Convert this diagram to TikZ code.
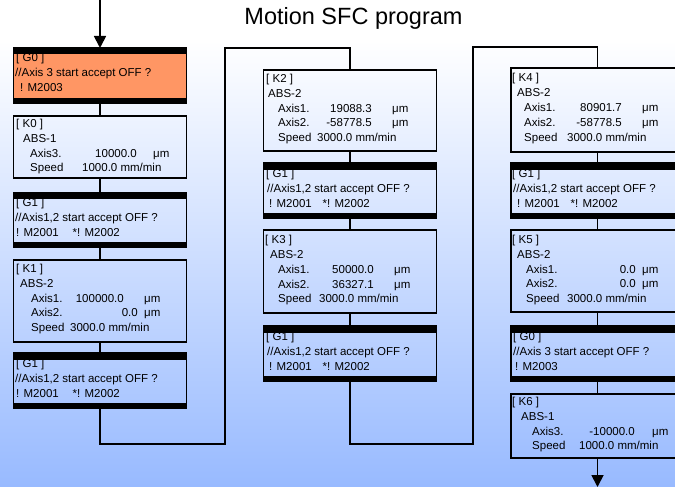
\documentclass[tikz,border=0pt]{standalone}
\usepackage{fontspec}
\setmainfont{Liberation Sans}
\usetikzlibrary{arrows.meta,calc}
\definecolor{bgblue}{RGB}{152,186,255}
\definecolor{gorange}{RGB}{255,150,100}
\tikzset{
  box/.style={draw=black, line width=1.6pt, inner sep=0pt, outer sep=0pt, minimum width=173pt},
  gbox/.style={box, minimum height=55pt,
    path picture={\fill[black] (path picture bounding box.north west) rectangle ([yshift=-6.5pt]path picture bounding box.north east);
                  \fill[black] (path picture bounding box.south west) rectangle ([yshift=5.5pt]path picture bounding box.south east);}},
  txt/.style={anchor=base west, inner sep=0pt, font=\fontsize{11.5}{13}\selectfont},
  val/.style={txt, anchor=base east},
  conn/.style={line width=1.8pt},
  arr/.style={conn, -{Triangle[width=12pt,length=12pt]}},
}
\begin{document}
\begin{tikzpicture}[x=1pt,y=-1pt]
\useasboundingbox (0,0) rectangle (675,487);
\clip (0,0) rectangle (675,487);
\fill[white] (0,0) rectangle (675,487);
\shade[top color=white, bottom color=bgblue] (0,40) rectangle (675,487);

\node[font=\fontsize{23.5}{28}\selectfont, anchor=base, inner sep=0pt] (title) at (353.5,25) {Motion SFC program};

% ---------- column 1 ----------
\node[gbox, fill=gorange] (G0a) at (100,75.5) {};
\node[box, minimum height=62pt] (K0) at (100,147) {};
\node[gbox] (G1a) at (100,220) {};
\node[box, minimum height=82pt] (K1) at (100,301) {};
\node[gbox] (G1b) at (100,380.5) {};

\node[txt] (G0a1) at (16,62) {[ G0 ]};
\node[txt] (G0a2) at (15,77) {//Axis 3 start accept OFF ?};
\node[txt] (G0a3) at (20,92) {! M2003};

\node[txt] (K0a) at (16,127) {[ K0 ]};
\node[txt] (K0b) at (23,142) {ABS-1};
\node[txt] (K0c) at (30,157) {Axis3.};
\node[val] (K0d) at (137,157) {10000.0};
\node[txt] (K0e) at (153,157) {μm};
\node[txt] (K0f) at (30,171) {Speed};
\node[txt] (K0g) at (82,171) {1000.0 mm/min};

\node[txt] (G1a1) at (16,206) {[ G1 ]};
\node[txt] (G1a2) at (15,221) {//Axis1,2 start accept OFF ?};
\node[txt] (G1a3) at (16,236) {! M2001};
\node[val] (G1a4) at (120,236) {*! M2002};

\node[txt] (K1a) at (16,272.5) {[ K1 ]};
\node[txt] (K1b) at (20,287) {ABS-2};
\node[txt] (K1c) at (31,302) {Axis1.};
\node[val] (K1d) at (124,302) {100000.0};
\node[txt] (K1e) at (144,302) {μm};
\node[txt] (K1f) at (31,316.5) {Axis2.};
\node[val] (K1g) at (138,316.5) {0.0};
\node[txt] (K1h) at (144,316.5) {μm};
\node[txt] (K1i) at (31,331) {Speed};
\node[txt] (K1j) at (70,331) {3000.0 mm/min};

\node[txt] (G1b1) at (16,367) {[ G1 ]};
\node[txt] (G1b2) at (15,382) {//Axis1,2 start accept OFF ?};
\node[txt] (G1b3) at (16,397) {! M2001};
\node[val] (G1b4) at (120,397) {*! M2002};

% ---------- column 2 ----------
\node[box, minimum height=81pt] (K2) at (350,110.5) {};
\node[gbox] (G1c) at (350,190.5) {};
\node[box, minimum height=83pt] (K3) at (350,271.5) {};
\node[gbox] (G1d) at (350,353.5) {};

\node[txt] (K2a) at (266,82.5) {[ K2 ]};
\node[txt] (K2b) at (268,97) {ABS-2};
\node[txt] (K2c) at (278,112) {Axis1.};
\node[val] (K2d) at (372,112) {19088.3};
\node[txt] (K2e) at (392,112) {μm};
\node[txt] (K2f) at (278,126.5) {Axis2.};
\node[val] (K2g) at (372,126.5) {-58778.5};
\node[txt] (K2h) at (392,126.5) {μm};
\node[txt] (K2i) at (278,141) {Speed};
\node[txt] (K2j) at (317,141) {3000.0 mm/min};

\node[txt] (G1c1) at (266,177) {[ G1 ]};
\node[txt] (G1c2) at (267,192) {//Axis1,2 start accept OFF ?};
\node[txt] (G1c3) at (269,207) {! M2001};
\node[val] (G1c4) at (370,207) {*! M2002};

\node[txt] (K3a) at (265,243) {[ K3 ]};
\node[txt] (K3b) at (270,258) {ABS-2};
\node[txt] (K3c) at (278,273) {Axis1.};
\node[val] (K3d) at (374,273) {50000.0};
\node[txt] (K3e) at (394,273) {μm};
\node[txt] (K3f) at (278,288) {Axis2.};
\node[val] (K3g) at (374,288) {36327.1};
\node[txt] (K3h) at (394,288) {μm};
\node[txt] (K3i) at (278,302.5) {Speed};
\node[txt] (K3j) at (319,302.5) {3000.0 mm/min};

\node[txt] (G1d1) at (266,340) {[ G1 ]};
\node[txt] (G1d2) at (267,355) {//Axis1,2 start accept OFF ?};
\node[txt] (G1d3) at (269,370) {! M2001};
\node[val] (G1d4) at (370,370) {*! M2002};

% ---------- column 3 ----------
\node[box, minimum height=84pt] (K4) at (597.5,110) {};
\node[gbox] (G1e) at (597.5,190.5) {};
\node[box, minimum height=82pt] (K5) at (597.5,271) {};
\node[gbox] (G0b) at (597.5,353.5) {};
\node[box, minimum height=64pt] (K6) at (597.5,426) {};

\node[txt] (K4a) at (512,81.5) {[ K4 ]};
\node[txt] (K4b) at (517,96.5) {ABS-2};
\node[txt] (K4c) at (524,111.5) {Axis1.};
\node[val] (K4d) at (622,111.5) {80901.7};
\node[txt] (K4e) at (642,111.5) {μm};
\node[txt] (K4f) at (524,126.5) {Axis2.};
\node[val] (K4g) at (622,126.5) {-58778.5};
\node[txt] (K4h) at (642,126.5) {μm};
\node[txt] (K4i) at (524,141) {Speed};
\node[txt] (K4j) at (567,141) {3000.0 mm/min};

\node[txt] (G1e1) at (512,177) {[ G1 ]};
\node[txt] (G1e2) at (513,192) {//Axis1,2 start accept OFF ?};
\node[txt] (G1e3) at (517,207) {! M2001};
\node[val] (G1e4) at (618,207) {*! M2002};

\node[txt] (K5a) at (512,243) {[ K5 ]};
\node[txt] (K5b) at (517,258) {ABS-2};
\node[txt] (K5c) at (526,273) {Axis1.};
\node[val] (K5d) at (636,273) {0.0};
\node[txt] (K5e) at (642,273) {μm};
\node[txt] (K5f) at (526,287.5) {Axis2.};
\node[val] (K5g) at (636,287.5) {0.0};
\node[txt] (K5h) at (642,287.5) {μm};
\node[txt] (K5i) at (526,302) {Speed};
\node[txt] (K5j) at (567,302) {3000.0 mm/min};

\node[txt] (G0b1) at (513,340) {[ G0 ]};
\node[txt] (G0b2) at (513,355) {//Axis 3 start accept OFF ?};
\node[txt] (G0b3) at (515,370) {! M2003};

\node[txt] (K6a) at (512,405) {[ K6 ]};
\node[txt] (K6b) at (521,420) {ABS-1};
\node[txt] (K6c) at (532,435) {Axis3.};
\node[val] (K6d) at (635,435) {-10000.0};
\node[txt] (K6e) at (652,435) {μm};
\node[txt] (K6f) at (532,449) {Speed};
\node[txt] (K6g) at (579,449) {1000.0 mm/min};

% ---------- connectors ----------
\coordinate (start) at (100,0);
\coordinate (jumpA) at (225,444);
\coordinate (jumpB) at (225,48);
\coordinate (jumpC) at (473,444);
\coordinate (jumpD) at (473,47);
\coordinate (finish) at (597.5,487);

\draw[arr] (start) -- (G0a.north);
\draw[conn] (G0a.south) -- (K0.north);
\draw[conn] (K0.south) -- (G1a.north);
\draw[conn] (G1a.south) -- (K1.north);
\draw[conn] (K1.south) -- (G1b.north);
\draw[conn] (G1b.south) |- (jumpA) -- (jumpB) -| (K2.north);
\draw[conn] (K2.south) -- (G1c.north);
\draw[conn] (G1c.south) -- (K3.north);
\draw[conn] (K3.south) -- (G1d.north);
\draw[conn] (G1d.south) |- (jumpC) -- (jumpD) -| (K4.north);
\draw[conn] (K4.south) -- (G1e.north);
\draw[conn] (G1e.south) -- (K5.north);
\draw[conn] (K5.south) -- (G0b.north);
\draw[conn] (G0b.south) -- (K6.north);
\draw[arr] (K6.south) -- (finish);
\end{tikzpicture}
\end{document}
